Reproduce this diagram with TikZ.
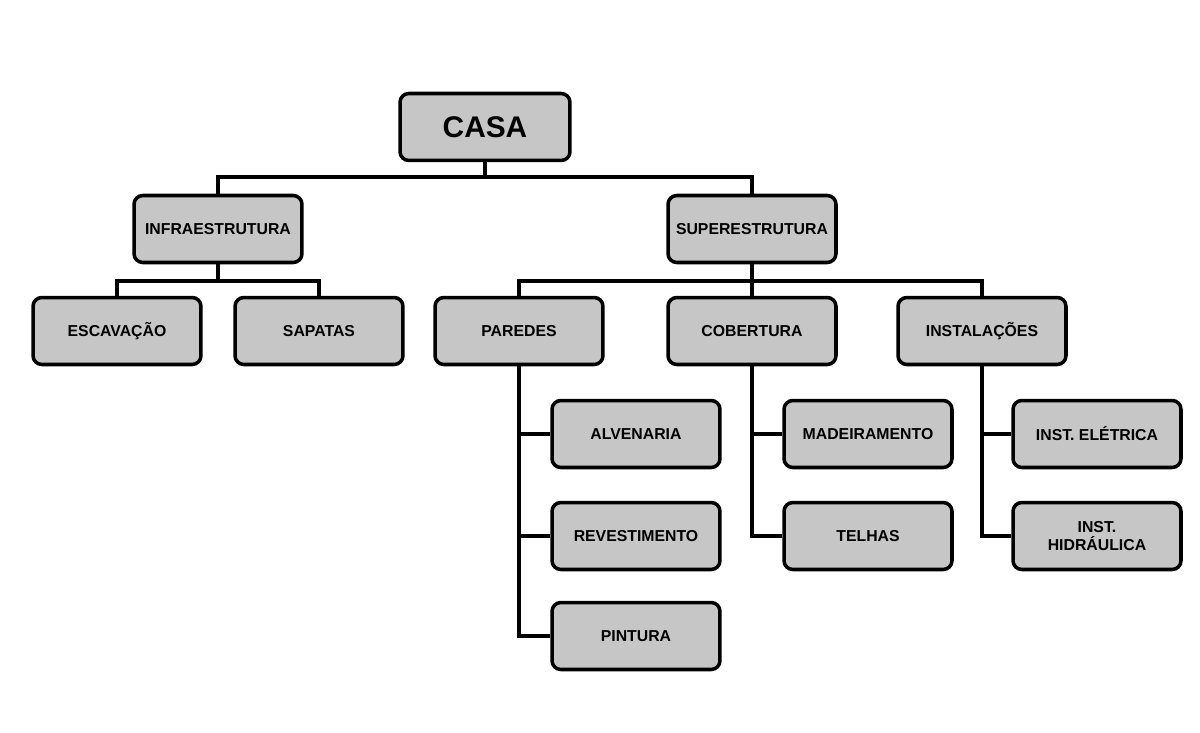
\documentclass[tikz,border=0pt]{standalone}
\usepackage{fontspec}
\setmainfont{Liberation Sans}
\usetikzlibrary{positioning}

\begin{document}
\begin{tikzpicture}[x=0.02cm, y=-0.02cm]
  % Settings
  \tikzset{
    item/.style={draw, line width=2pt, rounded corners=5pt, fill=gray!45, minimum width=3.36cm, minimum height=1.34cm, align=center, font=\bfseries\fontsize{9}{10}\selectfont},
    top/.style={item, minimum width=3.4cm, font=\bfseries\fontsize{17}{19}\selectfont},
    link/.style={line width=2.2pt},
  }
  \useasboundingbox (0,0) rectangle (1200,733);
  % Boxes
  \node[top]  (casa)   at (485,127) {CASA};
  \node[item] (infra)  at (218,229) {INFRAESTRUTURA};
  \node[item] (super)  at (752,229) {SUPERESTRUTURA};
  \node[item] (escav)  at (117,331) {ESCAVAÇÃO};
  \node[item] (sapat)  at (319,331) {SAPATAS};
  \node[item] (pared)  at (519,331) {PAREDES};
  \node[item] (cober)  at (752,331) {COBERTURA};
  \node[item] (insta)  at (982,331) {INSTALAÇÕES};
  \node[item] (alven)  at (636,434) {ALVENARIA};
  \node[item] (reves)  at (636,536) {REVESTIMENTO};
  \node[item] (pint)   at (636,636) {PINTURA};
  \node[item] (madei)  at (868,434) {MADEIRAMENTO};
  \node[item] (telha)  at (868,536) {TELHAS};
  \node[item] (eletr)  at (1097,434) {INST. ELÉTRICA};
  \node[item] (hidra)  at (1097,536) {INST.\\HIDRÁULICA};
  % Junctions
  \coordinate (j0) at (485,177);
  \coordinate (j1) at (218,281);
  \coordinate (j2) at (752,281);
  % Links
  \draw[link] (casa.south) -- (j0);
  \draw[link] (infra.north) |- (j0) -| (super.north);
  \draw[link] (infra.south) -- (j1);
  \draw[link] (escav.north) |- (j1) -| (sapat.north);
  \draw[link] (super.south) -- (j2);
  \draw[link] (pared.north) |- (j2) -| (insta.north);
  \draw[link] (cober.north) -- (j2);
  % Side branches
  \draw[link] (pared.south) |- (pint.west);
  \draw[link] (pared.south |- alven.west) -- (alven.west);
  \draw[link] (pared.south |- reves.west) -- (reves.west);
  \draw[link] (cober.south) |- (telha.west);
  \draw[link] (cober.south |- madei.west) -- (madei.west);
  \draw[link] (insta.south) |- (hidra.west);
  \draw[link] (insta.south |- eletr.west) -- (eletr.west);
\end{tikzpicture}
\end{document}
